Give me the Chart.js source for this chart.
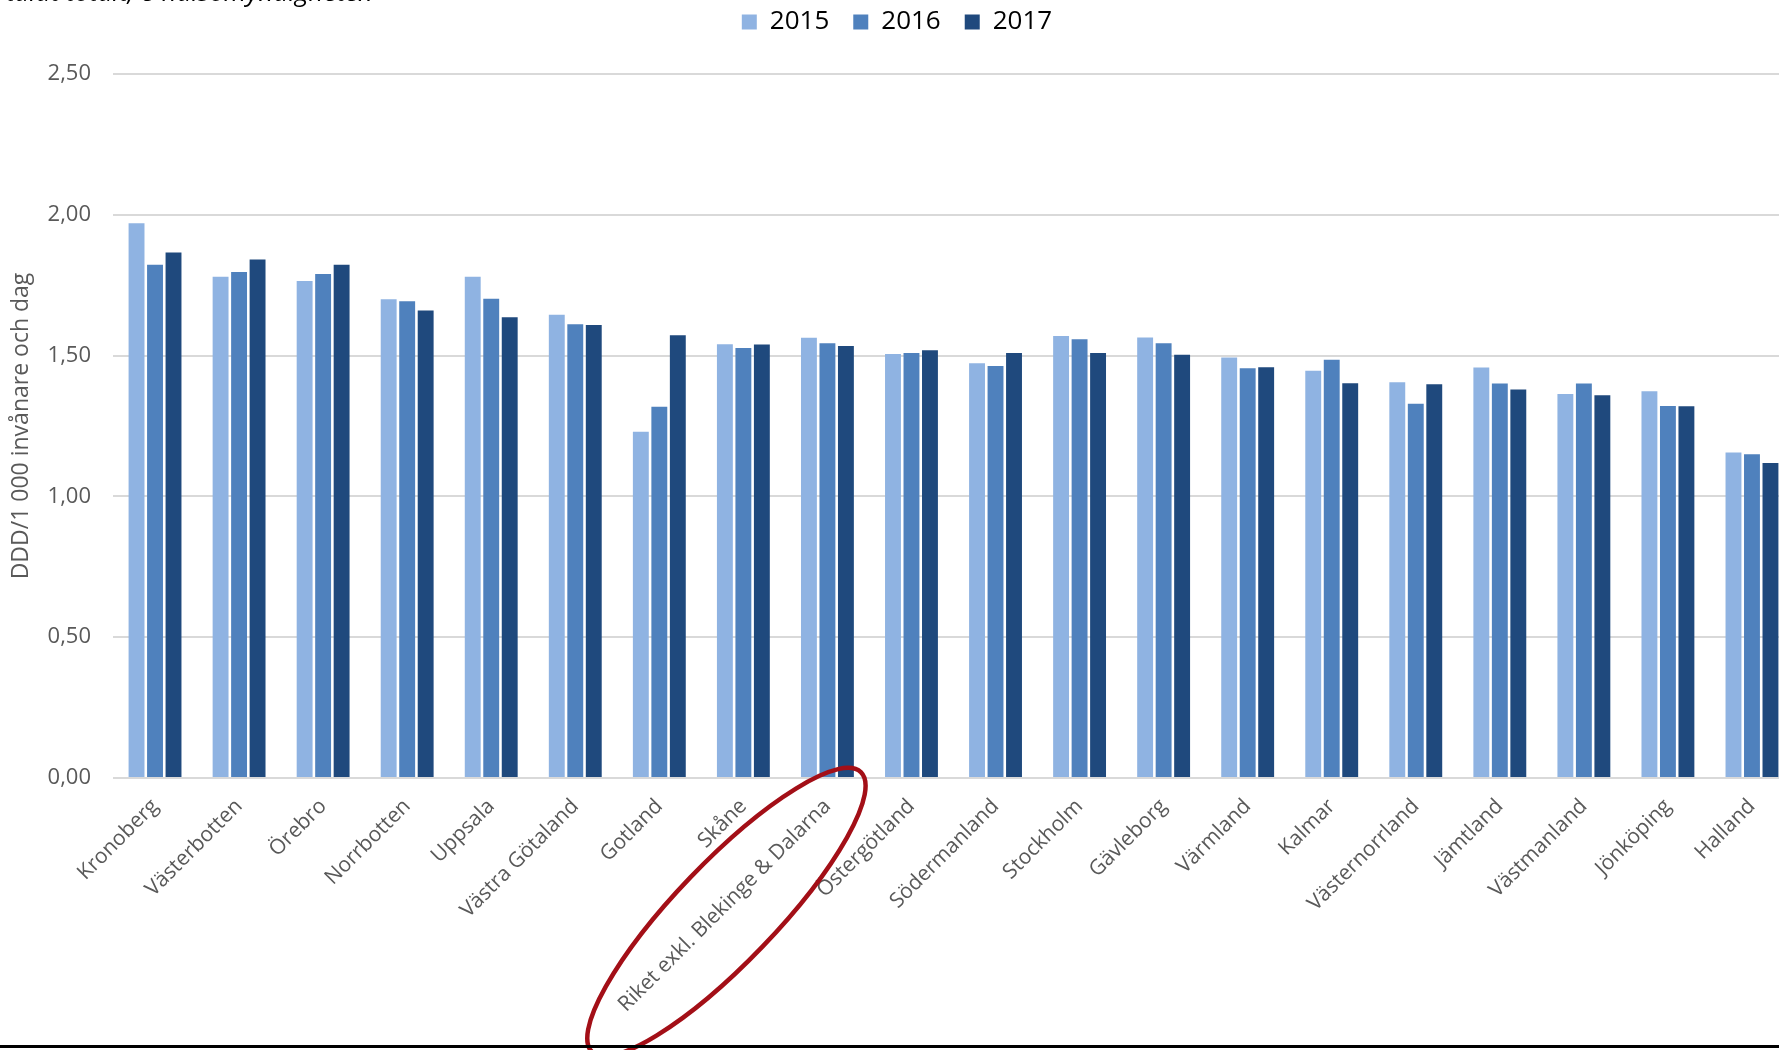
<!DOCTYPE html>
<html lang="sv">
<head>
<meta charset="utf-8">
<script src="https://cdn.jsdelivr.net/npm/chart.js@4.4.0/dist/chart.umd.min.js"></script>
<style>
  html, body { margin: 0; padding: 0; background: #fff; }
  #wrap { position: relative; width: 1779px; height: 1050px; overflow: hidden; }
  #box { position: absolute; left: 0; top: 0; width: 1795px; height: 1050px; }
  #cut { position: absolute; left: 6px; top: -27px; font: italic 26px "Open Sans", sans-serif; color: #000; white-space: nowrap; }
  #bottomline { position: absolute; left: 0; top: 1045px; width: 1779px; height: 3px; background: #000; }
</style>
</head>
<body>
<div id="wrap">
  <div id="box"><canvas id="ddd"></canvas></div>
  <div id="cut">talat totalt, e-hälsomyndigheten</div>
  <div id="bottomline"></div>
</div>
<script>
// regioner, sorterade som i originalet
const regions = ['Kronoberg', 'Västerbotten', 'Örebro', 'Norrbotten', 'Uppsala', 'Västra Götaland',
    'Gotland', 'Skåne', 'Riket exkl. Blekinge & Dalarna', 'Östergötland', 'Södermanland', 'Stockholm',
    'Gävleborg', 'Värmland', 'Kalmar', 'Västernorrland', 'Jämtland', 'Västmanland', 'Jönköping', 'Halland'];

const years = ['2015', '2016', '2017'];

const ddd2015 = [1.97, 1.78, 1.765, 1.70, 1.78, 1.645, 1.23, 1.54, 1.563, 1.506, 1.473, 1.57,
    1.564, 1.493, 1.446, 1.405, 1.458, 1.364, 1.373, 1.156];
const ddd2016 = [1.823, 1.797, 1.79, 1.693, 1.702, 1.611, 1.318, 1.527, 1.544, 1.509, 1.463, 1.558,
    1.544, 1.455, 1.485, 1.329, 1.401, 1.401, 1.321, 1.150];
const ddd2017 = [1.866, 1.841, 1.823, 1.66, 1.636, 1.609, 1.572, 1.539, 1.534, 1.519, 1.509, 1.509,
    1.503, 1.459, 1.402, 1.398, 1.380, 1.359, 1.320, 1.119];

const yTicks = [0, 0.5, 1, 1.5, 2, 2.5];

const colors = ['#8fb3e2', '#4f81bd', '#1f497d'];
const textGray = '#595959';
const circledIndex = 8; // Riket-etiketten är inringad

// Röd ring runt etiketten för riket
const ringPlugin = {
    id: 'ring',
    afterDraw(chart) {
        const x = chart.scales.x;
        const cx = x.getPixelForValue(circledIndex) - 101;
        const cy = x.top + 134;
        const ctx = chart.ctx;
        ctx.save();
        ctx.beginPath();
        ctx.ellipse(cx, cy, 194, 50, -Math.PI / 4 - 0.02, 0, Math.PI * 2);
        ctx.lineWidth = 4.5;
        ctx.strokeStyle = '#a30f17';
        ctx.stroke();
        ctx.restore();
    }
};

// mer luft under legenden
const legendSpace = {
    id: 'legendSpace',
    beforeInit(chart) {
        const fit = chart.legend.fit;
        chart.legend.fit = function () {
            fit.call(this);
            this.height += 29;
        };
    }
};

function initChart() {
    const ctx = document.getElementById('ddd').getContext('2d');
    const series = [ddd2015, ddd2016, ddd2017];
    new Chart(ctx, {
        type: 'bar',
        data: {
            labels: regions,
            datasets: years.map((y, i) => ({
                label: y,
                data: series[i],
                backgroundColor: colors[i],
                borderWidth: 0,
                categoryPercentage: 0.66,
                barPercentage: 0.86
            }))
        },
        options: {
            responsive: true,
            maintainAspectRatio: false,
            animation: false,
            devicePixelRatio: 1,
            layout: { padding: { top: -15, right: 1, left: 0, bottom: 0 } },
            plugins: {
                legend: {
                    position: 'top',
                    labels: {
                        boxWidth: 15,
                        boxHeight: 15,
                        padding: 24,
                        color: '#000',
                        font: { family: 'Open Sans', size: 26 }
                    }
                },
                tooltip: { enabled: false }
            },
            scales: {
                x: {
                    grid: { display: false },
                    border: { display: false },
                    ticks: {
                        autoSkip: false,
                        maxRotation: 45,
                        minRotation: 45,
                        padding: 8,
                        color: textGray,
                        font: { family: 'Open Sans', size: 21 }
                    },
                    afterFit(scale) { scale.height = 272; }
                },
                y: {
                    min: 0,
                    max: 2.5,
                    afterBuildTicks(scale) { scale.ticks = yTicks.map(v => ({ value: v })); },
                    grid: { color: '#d9d9d9', lineWidth: 2, drawTicks: false },
                    border: { display: false },
                    ticks: {
                        padding: 22,
                        color: textGray,
                        font: { family: 'Open Sans', size: 22 },
                        callback: v => v.toFixed(2).replace('.', ',')
                    },
                    title: {
                        display: true,
                        text: 'DDD/1 000 invånare och dag',
                        color: textGray,
                        font: { family: 'Open Sans', size: 23 },
                        padding: { top: 8, bottom: 0 }
                    },
                    afterFit(scale) { scale.width = 113; }
                }
            }
        },
        plugins: [legendSpace, ringPlugin]
    });
}

window.onload = initChart;
</script>
</body>
</html>
